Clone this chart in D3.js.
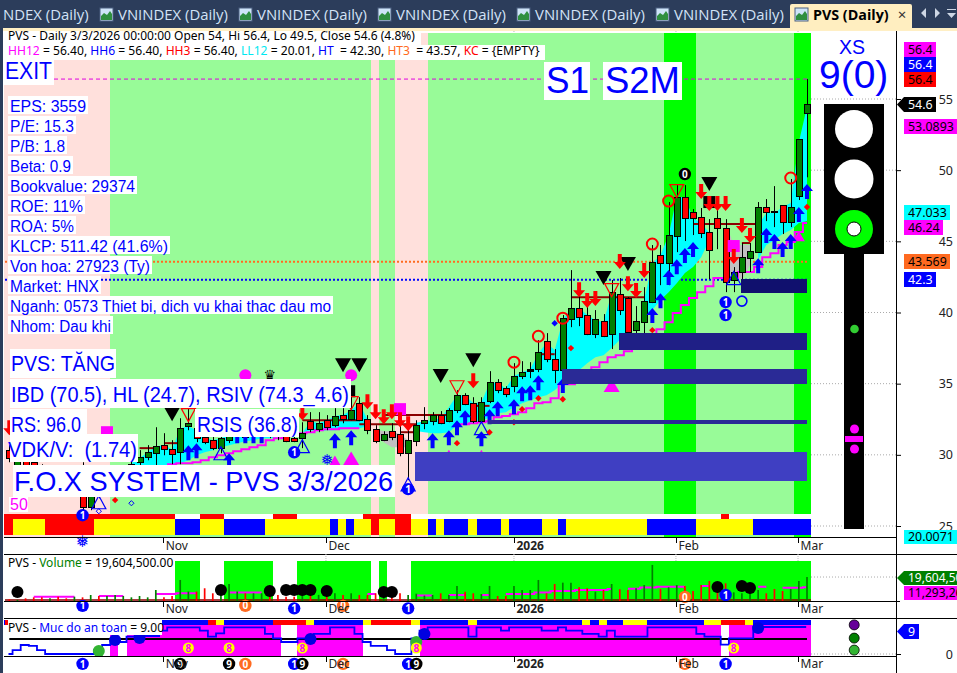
<!DOCTYPE html>
<html><head><meta charset="utf-8">
<script src="https://cdn.jsdelivr.net/npm/d3@7"></script>
<style>html,body{margin:0;padding:0;background:#fff;overflow:hidden}svg{display:block}</style>
</head><body><div id="c"></div>
<script>
// ---- OHLC, bar 0 .. 98 ----
const opens=[30.33,29.20,29.97,29.48,29.06,28.08,28.78,28.36,27.37,29.27,26.32,27.86,27.51,27.86,28.36,28.78,29.48,29.83,30.11,30.68,30.40,30.18,32.01,31.87,31.24,31.03,30.47,31.03,31.31,31.73,31.31,31.66,32.08,31.73,31.31,31.17,31.17,32.36,31.80,32.43,32.08,32.79,32.50,33.63,32.50,31.80,31.03,31.66,31.45,30.11,30.96,32.22,32.36,32.79,32.36,33.14,34.19,33.63,32.36,33.77,35.11,34.68,34.82,35.53,35.88,36.02,37.99,36.72,35.95,39.53,40.31,39.82,38.48,39.39,38.48,41.29,41.01,38.76,39.32,40.73,44.03,43.47,45.37,48.11,47.06,46.70,45.65,46.63,45.93,42.28,42.84,43.82,44.24,47.41,47.13,47.55,46.35,48.18,54.0];
const closes=[29.76,29.76,28.92,28.78,28.36,28.92,27.93,27.51,28.22,26.32,27.51,27.16,28.22,28.57,28.92,29.34,29.83,30.18,30.61,30.40,30.04,31.87,32.22,31.17,30.89,30.47,31.17,31.38,31.73,31.24,31.80,32.08,31.52,31.31,30.96,30.96,31.52,31.80,32.22,31.94,32.72,32.50,33.14,32.43,31.73,30.96,31.45,31.24,30.11,31.03,32.08,32.43,32.79,32.22,33.14,34.19,33.56,32.36,33.70,35.11,34.54,34.26,35.53,35.81,36.02,37.21,36.72,35.95,39.60,40.31,39.67,38.48,39.53,38.34,41.43,40.17,38.62,39.39,40.80,43.54,43.47,45.44,48.11,46.63,46.63,45.58,44.38,45.93,42.14,42.84,43.89,44.31,47.41,47.06,47.06,46.35,47.41,52.12,54.6];
const highs=[30.68,30.18,30.33,29.76,29.34,29.27,29.06,28.64,28.50,29.48,28.22,28.22,28.50,28.92,29.20,29.76,30.33,30.68,31.94,31.52,31.03,32.57,33.28,32.43,31.73,31.31,31.73,31.87,32.29,32.15,32.43,32.72,32.43,32.08,31.87,31.73,32.29,33.00,33.00,32.79,33.28,33.28,34.54,34.05,32.79,32.08,31.66,32.22,32.57,31.94,32.43,33.35,33.00,33.07,33.28,34.54,34.33,34.05,34.05,35.88,35.32,34.82,36.44,36.58,36.51,38.06,38.55,37.43,39.82,42.98,41.43,40.45,40.17,39.89,42.28,42.42,41.08,40.45,41.78,44.74,44.74,47.76,48.95,48.95,47.27,47.34,46.56,47.20,46.56,43.19,44.88,44.88,47.76,47.97,48.88,47.55,49.38,52.12,56.4];
const lows=[29.48,29.06,28.78,28.57,28.08,27.93,27.72,27.37,27.23,26.11,26.11,26.95,27.37,27.65,28.08,28.57,29.27,29.62,29.27,29.97,29.34,29.34,31.73,30.89,30.75,30.33,30.11,30.82,31.17,31.03,31.17,31.31,31.17,31.03,30.89,30.89,30.47,31.59,31.59,31.73,31.94,32.22,32.43,32.36,31.45,30.82,30.96,31.03,29.90,28.22,30.61,31.80,32.08,32.15,32.29,32.93,33.49,32.22,32.22,33.63,34.33,34.05,34.40,35.32,35.39,35.81,36.51,35.04,35.88,38.97,39.04,38.41,38.20,38.27,37.43,39.82,38.34,38.20,38.55,40.66,41.92,41.92,44.24,45.02,45.44,45.23,42.35,44.45,41.43,41.43,42.14,42.84,44.24,46.42,46.00,45.51,46.00,47.90,49.5];
const volumes=[1.4,1.0,2.2,3.0,3.0,2.2,3.5,2.2,3.5,3.0,4.9,4.1,4.1,4.9,4.1,3.0,4.1,3.0,9.0,3.0,4.1,17.2,7.8,7.8,10.4,6.3,7.6,13.9,7.8,6.3,6.3,6.3,4.9,4.9,3.5,3.5,9.0,6.3,5.0,6.3,6.3,4.9,6.3,4.9,4.9,6.3,5.0,6.3,6.3,4.9,6.0,4.4,4.9,6.3,4.9,12.3,7.6,6.3,5.7,12.3,4.1,4.1,12.3,9.0,9.0,17.2,6.3,13.9,15.0,15.0,11.2,10.4,7.6,9.0,13.9,9.6,9.0,10.4,13.1,29.5,9.8,11.2,13.1,12.3,8.2,13.1,16.4,9.0,14.5,7.1,6.3,7.6,9.0,6.3,9.8,8.2,9.8,16.4,19.6045];
const volumeMA=[null,null,null,3.5,3.5,3.5,3.5,3.5,3.5,null,null,4.1,4.1,4.1,4.1,null,null,null,5.7,5.7,5.7,6.3,6.3,6.3,null,null,null,7.0,7.0,7.0,7.0,7.0,null,null,null,null,null,null,null,null,null,null,null,null,5.7,5.7,null,null,null,null,4.4,4.4,4.4,null,4.9,4.9,4.9,null,4.9,4.9,null,5.7,5.7,5.7,5.7,7.0,7.0,8.2,8.2,8.2,9.0,9.0,9.0,9.0,9.8,null,10.1,10.1,11.0,11.0,11.7,11.7,11.7,11.7,null,12.3,12.3,null,null,null,null,null,11.7,11.7,null,10.9,10.9,10.9,11.29];
const safety=[0,1.3,3,2.7,1.3,0,0,0,0,0,0,1.3,3,4.7,4,5.8,6,6,6,7.8,8.9,8.9,8.9,8.9,7.8,5.8,6.9,8.9,8.9,8.9,8.9,8.9,6.7,5.2,4,4,5.2,5.2,6.7,6.7,8.9,8.9,8.9,6.7,4,2.7,2.7,1.3,0,0,5.2,7.8,8.9,8.9,8.9,8.9,8.9,5.8,8.9,8.9,8.9,7.8,8.9,8.9,8.9,8.9,7.8,7.8,8.9,7.8,7.8,6.7,6.7,5.8,7.8,5.8,5.8,5.8,5.8,8.9,8.9,8.9,8.9,8.9,8.9,6.7,5.8,5.8,3.1,5.2,5.2,5.2,9,9,9,9,9,9,9];
const n=null;
const bandUpper=[n,n,n,n,n,n,n,n,n,n,n,n,n,n,n,29.41,29.76,30.18,30.61,30.68,30.40,31.87,32.01,31.73,31.24,31.03,31.17,31.38,31.66,31.66,31.73,31.94,31.80,31.66,31.45,31.38,31.52,32.36,32.22,32.43,32.72,32.79,33.14,33.63,32.50,n,n,n,n,n,32.25,32.36,32.43,32.57,33.35,34.19,34.19,33.63,33.70,35.04,35.04,34.68,35.53,35.81,36.02,37.14,37.85,37.36,39.46,40.31,40.31,39.82,39.46,39.32,41.36,41.22,40.87,n,40.87,43.47,44.03,45.44,48.11,48.11,46.63,46.28,45.58,n,n,n,n,n,46.14,46.99,46.99,47.41,47.69,51.98,54.44];
const bandLower=[n,n,n,n,n,n,n,n,n,n,n,n,n,n,n,29.27,28.92,28.92,28.92,29.06,29.27,29.41,29.62,29.97,30.18,30.33,30.54,30.68,30.82,30.96,31.03,31.17,31.17,31.24,31.31,31.45,31.59,31.73,31.66,31.73,31.73,31.80,31.87,31.87,32.01,n,n,n,n,n,31.68,31.59,31.52,31.52,31.59,32.08,32.22,32.29,32.36,32.64,32.93,33.0,33.35,33.63,33.84,34.05,34.19,34.54,35.04,35.6,35.95,36.44,36.86,37.0,37.50,38.06,38.55,n,39.46,40.17,40.87,41.43,42.06,42.77,43.19,43.89,45.09,n,n,n,n,n,43.70,44.74,45.09,45.51,45.79,46.28,46.42];
const trailStop=[n,n,n,n,n,n,n,n,n,n,n,n,n,n,n,n,n,n,n,29.20,29.34,29.41,29.41,29.48,29.62,29.83,29.97,30.11,30.25,30.40,30.54,30.68,31.03,31.17,31.31,31.38,31.52,31.59,31.73,31.80,31.80,31.87,31.87,31.87,n,n,n,n,n,n,n,n,n,n,n,32.15,32.15,32.22,32.29,32.36,32.64,32.72,32.86,33.0,33.28,33.63,33.70,33.98,34.96,34.96,35.53,35.81,36.16,36.51,36.86,37.0,37.28,37.71,38.06,38.41,38.83,39.32,39.96,40.52,41.01,41.43,41.85,42.42,42.42,42.42,42.84,42.84,43.19,43.89,44.17,44.74,44.95,45.65,46.28];
const greyBars=[45,46,47,48,49,77,88,89,90,91];
const greyUpper=[31.80,31.66,31.66,31.45,31.03,39.67,46.28,44.74,44.74,44.74];
const greyLower=[31.38,30.89,30.54,30.54,30.54,39.11,42.84,42.63,42.28,43.33];

// ---- per-bar colour codes, as run lengths ----
const zoneRuns="P13 G32 P1 G2 P4 G29 B4 G12 B2";
const stateStripRuns="R1 Y4 R6 Y10 B3 Y3 B5 Y8 B1 Y1 B1 Y2 R1 Y2 R2 Y2 B1 Y1 B3 Y1 B3 Y1 B4 Y2 B1 Y10 B6 Y7 B7";
const signalStripRuns="R21 W3 R3 W6 R3 W8 R6 W38 R1 W10";
const volumeBgRuns="W21 L3 W3 L6 W3 L9 W1 L1 W3 L49";
const safetyBgRuns="W13 M1 W1 M19 W2 M8 W7 M37 W1 M10";
const safetyStripRuns="B25 R1 Y1 B6 R4 Y1 B6 Y1 R5 Y1 B6 Y1 B13 Y1 B1 Y1 B2 Y3 B7 Y2 R3 Y1 B7";

// ---- levels and resistance segments ----
const levelHH=56.4, levelHT3=43.569, levelHT=42.3;
const segStart=[16,19,36,43,46,48,57,65,69,84,90];
const segEnd=[18,21,43,50,54,50,59,67,78,92,91];
const segPrice=[30.47,30.82,32.43,32.15,32.79,31.59,33.44,37.07,41.08,46.21,44.88];
const zoneBoxStart=[49.8,58.8,67.9,74.9,89.9];
const zoneBoxEnd=[98,98,98,98,98];
const zoneBoxTop=[30.18,32.43,36.02,38.55,42.35];
const zoneBoxBottom=[28.15,32.15,34.96,37.36,41.36];
const zoneBoxColour=["#3f3fc2","#2a2a96","#2a2a96","#1f1f86","#10106e"];

// ---- signal markers: bar index + price ----
const downBars=[0,36,44,45,46,47,48,49,57,70,71,72,75,76,77,78,85,86,87,88,89,90,91];
const downTips=[31.38,32.43,33.21,32.50,32.15,32.50,31.94,31.66,34.68,41.08,40.31,40.45,43.05,41.50,41.01,42.42,47.97,47.13,47.13,47.13,43.40,45.58,44.88];
const upBars=[22,23,27,28,29,30,31,40,42,52,54,55,56,58,59,60,62,63,64,65,68,79,80,81,82,83,84,92,93,94,95,96,97,98];
const upTips=[30.68,30.82,30.11,31.87,31.87,31.87,31.87,31.52,31.73,31.52,31.73,32.43,33.14,31.66,33.21,33.77,33.91,34.82,34.89,35.6,35.39,40.31,41.36,42.98,43.75,44.53,44.95,43.82,45.93,45.51,44.95,45.51,47.41,49.02];
const blackTriBars=[20,41,43,53,57,73,76,86];
const blackTriPrices=[32.86,36.3,36.3,35.53,36.65,42.42,43.40,49.02];
const redTriBars=[22,42,55,74,82];
const redTriPrices=[32.79,33.63,34.75,41.57,48.53];
const blueTriBars=[11,26,36,49,58,89];
const blueTriPrices=[26.67,30.11,30.61,27.93,31.87,42.42];
const redRingBars=[62,65,68,79,81,96];
const redRingPrices=[36.51,38.33,39.6,44.81,47.83,49.45];
const redDiamondBars=[13,55,59,62,63,65,68,69,79,98];
const redDiamondPrices=[26.82,30.82,31.59,32.29,33.21,33.98,33.91,37.5,38.76,47.41];
const blueDiamondBars=[67];
const blueDiamondPrices=[39.25];
const hollowDiamondBars=[11,15];
const hollowDiamondPrices=[26.04,26.6];
const magentaTriBars=[40,42,54,58,74,97];
const magentaTriPrices=[29.62,29.76,30.18,30.18,34.89,45.37];
const magentaTriSizes=[11,16,6,6,16,12];
const magentaDotBars=[29,42];
const magentaDotPrices=[35.6,35.6];
const magentaSquareBars=[12,48,89];
const magentaSquarePrices=[31.59,33.21,44.67];
const blackBlockBars=[42,86];
const blackBlockPrices=[34.47,47.76];
const priceDiscBars=[9,35,49,83,88,88];
const priceDiscPrices=[25.76,30.18,27.59,49.73,40.73,39.82];
const priceDiscDigits=["1","1","1","0","1","1"];
const priceDiscKinds=["b","b","b","k","b","b"];
const blueRingBars=[90];
const blueRingPrices=[40.80];

// volume pane markers
const volBallBars=[1,26,32,34,35,36,37,39,46,47,87,90,91];
const volBallValues=[7.4,9,8.2,9,9,9,9,8.2,7.4,7.4,11.5,12.3,10.7];
const volDiscBars=[9,29,35,41,49,83,88];
const volDiscValues=[-4,-4,-6,-4,-6,3.3,4.9];
const volDiscDigits=["1","0","1","0","1","0","1"];
const volDiscKinds=["b","o","b","o","b","o","b"];

// safety pane markers
const safeBlueBars=[13,16,37,51,92];
const safeBlueValues=[4.7,5.3,5,6.7,8.7];
const safeGreenBars=[11,50];
const safeGreenValues=[1,4];
const safeEightBars=[22,27,36,50,89];
const safeEightValues=[2,2,2,2,2];
const safeDiscBars=[9,21,27,29,35,36,41,49,50,83,88];
const safeDiscDigits=["1","9","9","0","1","9","0","1","9","0","1"];
const safeDiscKinds=["b","k","k","o","b","k","o","b","k","o","b"];
const safeDiscValue=-3.3;

// ---- text ----
const monthBars=[18.9,38.9,62,81.9,96.9];
const monthLabels=["Nov","Dec","2026","Feb","Mar"];
const priceTicks=[25,30,35,40,45,50,55];
const infoLines=["EPS: 3559","P/E: 15.3","P/B: 1.8","Beta: 0.9","Bookvalue: 29374","ROE: 11%","ROA: 5%","KLCP: 511.42 (41.6%)","Von hoa: 27923 (Ty)","Market: HNX","Nganh: 0573 Thiet bi, dich vu khai thac dau mo","Nhom: Dau khi"];
const tabLabels=["VNINDEX (Daily)","VNINDEX (Daily)","VNINDEX (Daily)","VNINDEX (Daily)","VNINDEX (Daily)"];
const legendParts=[["HH12","#ff00ff"],[" = 56.40, ","#000"],["HH6","#0000ff"],[" = 56.40, ","#000"],["HH3","#ff0000"],[" = 56.40, ","#000"],["LL12","#00e8f0"],[" = 20.01, ","#000"],["HT","#0000ff"],["  = 42.30, ","#000"],["HT3","#ff6a20"],["  = 43.57, ","#000"],["KC","#ff0000"],[" = {EMPTY}","#000"]];

// ---- drawing ----
const W=957,H=673;
const svg=d3.select("#c").append("svg").attr("width",W).attr("height",H).style("font-family","'Noto Sans',sans-serif");
const N=opens.length;
const x=d3.scaleLinear().domain([0,98]).range([9.3,807]);
const y=d3.scaleLinear().domain([25,55]).range([526,99]);
const yV=d3.scaleLinear().domain([0,32.7]).range([601,561]);
const yS=d3.scaleLinear().domain([0,9]).range([654,627]);
const barL=i=>x(i-0.6), barW=()=>x(1)-x(0);
const expand=s=>s.split(" ").flatMap(t=>Array(+t.slice(1)).fill(t[0]));
const paneRight=811;

svg.append("rect").attr("width",W).attr("height",H).attr("fill","#fff");

function strip(runs,colours,top,bottom){
  svg.append("g").selectAll("rect").data(expand(runs)).join("rect")
    .attr("x",(d,i)=>barL(i)).attr("width",barW()+0.4).attr("y",top).attr("height",bottom-top)
    .attr("shape-rendering","crispEdges").attr("fill",d=>colours[d]);
}
strip(zoneRuns,{P:"#ffe0dc",G:"#98fb98",B:"#00ff00"},33,537);
strip(signalStripRuns,{R:"#ff0000",W:"#ffffff"},514,519);
strip(stateStripRuns,{R:"#ff0000",Y:"#ffff00",B:"#0000ff"},519,535);
strip(volumeBgRuns,{W:"#ffffff",L:"#00ff00"},561,601);
strip(safetyBgRuns,{W:"#ffffff",M:"#ff00ff"},625,656);
strip(safetyStripRuns,{R:"#ff0000",Y:"#ffff00",B:"#0000ff"},620,625);

// grids on the right margin
svg.append("g").selectAll("line").data(priceTicks).join("line")
  .attr("x1",paneRight).attr("x2",896).attr("y1",d=>y(d)).attr("y2",d=>y(d))
  .attr("stroke","#aaa").attr("stroke-dasharray","1,2");
svg.append("line").attr("x1",paneRight).attr("x2",896).attr("y1",yV(19.6)).attr("y2",yV(19.6)).attr("stroke","#aaa").attr("stroke-dasharray","1,2");
svg.append("line").attr("x1",paneRight).attr("x2",896).attr("y1",yS(0)).attr("y2",yS(0)).attr("stroke","#aaa").attr("stroke-dasharray","1,2");

// level lines
const hline=(p,c,w,dash)=>svg.append("line").attr("x1",5).attr("x2",paneRight-4).attr("y1",y(p)).attr("y2",y(p)).attr("stroke",c).attr("stroke-width",w).attr("stroke-dasharray",dash);
hline(levelHH,"#e000e0",1,"4,3");
hline(levelHT3,"#ff6a20",2,"2,2");
hline(levelHT,"#0000ff",2,"2,2");

// bands
const bandData=d3.range(N);
const band=d3.area().defined(i=>bandUpper[i]!=null).x(i=>x(i)).y0(i=>y(bandLower[i])).y1(i=>y(bandUpper[i]));
svg.append("path").datum(bandData).attr("d",band).attr("fill","#00ffff");
const greyRuns=[[0,1,2,3,4],[5],[6,7,8,9]];
greyRuns.forEach(r=>{
  const a=d3.area().x(k=>x(greyBars[k])).y0(k=>y(greyLower[k])).y1(k=>y(greyUpper[k]));
  if(r.length>1) svg.append("path").datum(r).attr("d",a).attr("fill","#c0c0c0");
});
// trailing stop
svg.append("path").datum(bandData).attr("fill","none").attr("stroke","#ff00ff").attr("stroke-width",2)
  .attr("d",d3.line().defined(i=>trailStop[i]!=null).curve(d3.curveStep).x(i=>x(i)).y(i=>y(trailStop[i])));
// resistance segments
svg.append("g").selectAll("line").data(segPrice).join("line")
  .attr("x1",(d,i)=>x(segStart[i])).attr("x2",(d,i)=>x(segEnd[i])).attr("y1",d=>y(d)).attr("y2",d=>y(d))
  .attr("stroke","#8b0000").attr("stroke-width",2);

// candles
const cg=svg.append("g");
d3.range(N).forEach(i=>{
  const o=opens[i],c=closes[i],up=c>=o,doji=Math.abs(c-o)<0.16;
  cg.append("line").attr("x1",Math.round(x(i))+.5).attr("x2",Math.round(x(i))+.5).attr("y1",y(highs[i])).attr("y2",y(lows[i])).attr("stroke","#000");
  const top=y(Math.max(o,c)),bot=y(Math.min(o,c));
  cg.append("rect").attr("x",Math.round(x(i))-2.5).attr("width",6).attr("y",top).attr("height",Math.max(bot-top,1))
    .attr("fill",doji?"#000":(up?"#008000":"#ff0000")).attr("stroke","#000").attr("stroke-width",1).attr("shape-rendering","crispEdges");
});

// shapes
const tri=(cx,cy,w,h,up)=>up?`M${cx-w/2},${cy+h/2}L${cx},${cy-h/2}L${cx+w/2},${cy+h/2}Z`:`M${cx-w/2},${cy-h/2}L${cx},${cy+h/2}L${cx+w/2},${cy-h/2}Z`;
const diamond=(cx,cy,r)=>`M${cx-r},${cy}L${cx},${cy-r}L${cx+r},${cy}L${cx},${cy+r}Z`;
const arrow=(cx,tip,dir)=>`M${cx},${tip}L${cx-6},${tip-dir*7}L${cx-2},${tip-dir*7}L${cx-2},${tip-dir*15}L${cx+2},${tip-dir*15}L${cx+2},${tip-dir*7}L${cx+6},${tip-dir*7}Z`;
const mk=svg.append("g");
const paths=(bars,vals,f,attrs)=>bars.forEach((b,k)=>{const p=mk.append("path").attr("d",f(x(b),y(vals[k]),k));Object.entries(attrs).forEach(([a,v])=>p.attr(a,v));});

magentaTriBars.forEach((b,k)=>{const s=magentaTriSizes[k];mk.append("path").attr("d",tri(x(b),y(magentaTriPrices[k]),s,s*.85,true)).attr("fill","#ff00ff");});
magentaSquareBars.forEach((b,k)=>mk.append("rect").attr("x",x(b)-6).attr("y",y(magentaSquarePrices[k])-6).attr("width",12).attr("height",12).attr("fill","#ff00ff"));
magentaDotBars.forEach((b,k)=>mk.append("circle").attr("cx",x(b)).attr("cy",y(magentaDotPrices[k])).attr("r",6).attr("fill","#ff00ff"));
blackBlockBars.forEach((b,k)=>mk.append("rect").attr("x",x(b)-(k?6:3)).attr("y",y(blackBlockPrices[k])-6).attr("width",k?12:7).attr("height",12).attr("fill","#000"));
paths(blackTriBars,blackTriPrices,(a,b)=>tri(a,b,16,14,false),{fill:"#000"});
mk.append("text").attr("x",x(32)).attr("y",380).attr("text-anchor","middle").attr("font-size",14).attr("font-family","DejaVu Sans").attr("fill","#000").text("♛");
paths(redTriBars,redTriPrices,(a,b)=>tri(a,b,14,13,false),{fill:"none",stroke:"#ff0000","stroke-width":1.2});
paths(blueTriBars,blueTriPrices,(a,b)=>tri(a,b,14,13,true),{fill:"none",stroke:"#0000ff","stroke-width":1.2});
paths(downBars,downTips,(a,b)=>arrow(a,b,1),{fill:"#ff0000"});
paths(upBars,upTips,(a,b)=>arrow(a,b,-1),{fill:"#0000ff"});
paths(redDiamondBars,redDiamondPrices,(a,b)=>diamond(a,b,3.2),{fill:"#ff0000"});
paths(blueDiamondBars,blueDiamondPrices,(a,b)=>diamond(a,b,3.2),{fill:"#0000ff"});
paths(hollowDiamondBars,hollowDiamondPrices,(a,b)=>diamond(a,b,2.6),{fill:"none",stroke:"#0000ff"});
redRingBars.forEach((b,k)=>mk.append("circle").attr("cx",x(b)).attr("cy",y(redRingPrices[k])).attr("r",5.5).attr("fill","none").attr("stroke","#ff0000").attr("stroke-width",2));
blueRingBars.forEach((b,k)=>mk.append("circle").attr("cx",x(b)).attr("cy",y(blueRingPrices[k])).attr("r",5).attr("fill","none").attr("stroke","#0000ff").attr("stroke-width",1.6));

// zone boxes cover candles
svg.append("g").selectAll("rect").data(zoneBoxTop).join("rect")
  .attr("x",(d,i)=>x(zoneBoxStart[i])).attr("width",(d,i)=>x(zoneBoxEnd[i])-x(zoneBoxStart[i]))
  .attr("y",d=>y(d)).attr("height",(d,i)=>y(zoneBoxBottom[i])-y(d)).attr("fill",(d,i)=>zoneBoxColour[i]).attr("shape-rendering","crispEdges");

const discCol={b:"#0000ff",o:"#ff6a20",k:"#000000"};
function disc(g,cx,cy,digit,kind){
  g.append("circle").attr("cx",cx).attr("cy",cy).attr("r",6.2).attr("fill",discCol[kind]);
  g.append("text").attr("x",cx).attr("y",cy+3.6).attr("text-anchor","middle").attr("font-size",10).attr("font-weight",700).attr("fill","#fff").text(digit);
}
const dg=svg.append("g");
priceDiscBars.forEach((b,k)=>disc(dg,x(b),y(priceDiscPrices[k]),priceDiscDigits[k],priceDiscKinds[k]));
dg.append("text").attr("x",x(9)).attr("y",547).attr("text-anchor","middle").attr("font-size",16).attr("font-family","DejaVu Sans").attr("fill","#0000ff").text("❅");
dg.append("text").attr("x",x(39)).attr("y",465).attr("text-anchor","middle").attr("font-size",15).attr("font-family","DejaVu Sans").attr("fill","#0000ff").text("❅");

// volume pane
svg.append("line").attr("x1",5).attr("x2",paneRight).attr("y1",600).attr("y2",600).attr("stroke","#8b0000").attr("stroke-width",1.5);
svg.append("path").datum(d3.range(N)).attr("fill","none").attr("stroke","#ff00ff").attr("stroke-width",2)
  .attr("d",d3.line().defined(i=>volumeMA[i]!=null).curve(d3.curveStep).x(i=>x(i)).y(i=>yV(volumeMA[i])));
svg.append("g").selectAll("line").data(volumes).join("line")
  .attr("x1",(d,i)=>x(i)).attr("x2",(d,i)=>x(i)).attr("y1",601).attr("y2",d=>yV(d))
  .attr("stroke",(d,i)=>closes[i]>=opens[i]?"#008000":"#ff0000").attr("stroke-width",1.7);
svg.append("g").selectAll("circle").data(volBallValues).join("circle")
  .attr("cx",(d,i)=>x(volBallBars[i])).attr("cy",d=>yV(d)).attr("r",6).attr("fill","#000");
volDiscBars.forEach((b,k)=>disc(svg,x(b),yV(volDiscValues[k]),volDiscDigits[k],volDiscKinds[k]));

// safety pane
svg.append("line").attr("x1",x(0)).attr("x2",x(98)).attr("y1",yS(5)).attr("y2",yS(5)).attr("stroke","#000").attr("stroke-width",2);
svg.append("path").datum(d3.range(N)).attr("fill","none").attr("stroke","#0000ff").attr("stroke-width",1.8)
  .attr("d",d3.line().curve(d3.curveStep).x(i=>x(i-0.1)).y(i=>yS(safety[i])));
safeGreenBars.forEach((b,k)=>svg.append("circle").attr("cx",x(b)).attr("cy",yS(safeGreenValues[k])).attr("r",6).attr("fill","#32b432"));
safeBlueBars.forEach((b,k)=>svg.append("circle").attr("cx",x(b)).attr("cy",yS(safeBlueValues[k])).attr("r",6).attr("fill","#0000e0"));
safeEightBars.forEach((b,k)=>{
  const cx=x(b),cy=yS(safeEightValues[k]);
  svg.append("circle").attr("cx",cx).attr("cy",cy).attr("r",5.5).attr("fill","#ffff00");
  svg.append("text").attr("x",cx).attr("y",cy+3.6).attr("text-anchor","middle").attr("font-size",10).attr("font-weight",700).attr("fill","#ff00ff").text("8");
});
safeDiscBars.forEach((b,k)=>disc(svg,x(b),yS(safeDiscValue),safeDiscDigits[k],safeDiscKinds[k]));
[[103.8,9.7,"#660099"],[103.8,5.3,"#008000"],[103.8,1.3,"#32b432"]].forEach(d=>svg.append("circle").attr("cx",x(d[0])).attr("cy",yS(d[1])).attr("r",5).attr("fill",d[2]).attr("stroke","#000").attr("stroke-width",.8));

// labels over the panes
function boxed(text,px,base,size,fill,bx0,by0,bx1,by1,len){
  if(bx1>bx0) svg.append("rect").attr("x",bx0).attr("y",by0).attr("width",bx1-bx0).attr("height",by1-by0).attr("fill","#fff");
  const t=svg.append("text").attr("x",px).attr("y",base).attr("font-family","'Liberation Sans',Arial").attr("font-size",size).attr("fill",fill).style("white-space","pre").text(text);
  if(len) t.attr("textLength",len).attr("lengthAdjust","spacingAndGlyphs");
}
const BL="#0000ff";
boxed("EXIT",5,79,24,BL,4,60,54,85,47);
boxed("S1",546,93,36,BL,544,62,590,100,43);
boxed("S2M",605,93,36,BL,603,62,682,100,75);
const infoRight=[88,76,67,73,137,85,76,170,152,101,333,113];
infoLines.forEach((t,i)=>boxed(t,10,111.5+i*20,16,BL,8,96+i*20,infoRight[i],114+i*20,infoRight[i]-12));
boxed("PVS: TĂNG",11,371,21.5,BL,10,349,116,378,104);
boxed("IBD (70.5), HL (24.7), RSIV (74.3_4.6)",11,402,21.5,BL,10,379,351,408,338);
boxed("RS: 96.0_",11,432,21.5,BL,10,409,87,437,80);
boxed("RSIS (36.8)",197,432,21.5,BL,195,409,299,437,101);
boxed("VDK/V:  (1.74)",8,457,21.5,BL,10,434,138,462,129);
boxed("F.O.X SYSTEM - PVS 3/3/2026",14,491,27.5,BL,13,465,395,497,379);
boxed("50",10,510,16,"#ff00ff",9,497,28,512);
boxed("XS",839,54,19.5,BL,0,0,0,0);
boxed("9(0)",819,88,39,BL,0,0,0,0);

// traffic light (decoration, margin)
const tl=svg.append("g");
tl.append("rect").attr("x",844).attr("y",254).attr("width",20).attr("height",275).attr("fill","#000");
tl.append("rect").attr("x",824).attr("y",104).attr("width",60).attr("height",150).attr("fill","#000");
tl.append("circle").attr("cx",854).attr("cy",129).attr("r",19).attr("fill","#fff");
tl.append("circle").attr("cx",854).attr("cy",179).attr("r",19.5).attr("fill","#fff");
tl.append("circle").attr("cx",854).attr("cy",229).attr("r",19).attr("fill","#00ff00");
tl.append("circle").attr("cx",854).attr("cy",229).attr("r",7).attr("fill","#fff").attr("stroke","#000");
tl.append("circle").attr("cx",854.5).attr("cy",329).attr("r",4.3).attr("fill","#32cd32");
tl.append("circle").attr("cx",854.5).attr("cy",429).attr("r",4.5).attr("fill","#ff00ff");
tl.append("rect").attr("x",845).attr("y",436).attr("width",18).attr("height",6).attr("fill","#ff00ff");
tl.append("circle").attr("cx",854.5).attr("cy",449).attr("r",4.5).attr("fill","#ff00ff");

// pane text
function parts(px,base,list,size,box){
  svg.append("rect").attr("x",box[0]).attr("y",box[1]).attr("width",box[2]-box[0]).attr("height",box[3]-box[1]).attr("fill","#fff");
  const t=svg.append("text").attr("x",px).attr("y",base).attr("font-size",size).style("white-space","pre");
  list.forEach(p=>t.append("tspan").attr("fill",p[1]).text(p[0]));
}
parts(8,40,[["PVS - Daily 3/3/2026 00:00:00 Open 54, Hi 56.4, Lo 49.5, Close 54.6 (4.8%)","#000"]],12,[4,31,421,45]);
parts(8,55,legendParts,12.1,[4,45,545,60]);
parts(8,567,[["PVS - ","#000"],["Volume","#008000"],[" = 19,604,500.00","#000"]],12,[8,556,175,571]);
svg.append("rect").attr("x",5).attr("y",620).attr("width",3).attr("height",5).attr("fill","#ff0000");
parts(8,632,[["PVS - ","#000"],["Muc do an toan","#0000ff"],[" = 9.00","#000"]],12,[8,620,162,635]);

// axis frame
const rule=(x1,x2,yy,c="#000",w=1)=>svg.append("line").attr("x1",x1).attr("x2",x2).attr("y1",yy+.5).attr("y2",yy+.5).attr("stroke",c).attr("stroke-width",w);
rule(4,896,537);rule(4,W,554);rule(4,900,601);rule(4,W,618);rule(4,896,656);
svg.append("line").attr("x1",896.5).attr("x2",896.5).attr("y1",31).attr("y2",H).attr("stroke","#000");

// month axes
[[537,545],[601,608],[656,663]].forEach(([top,mid])=>{
  monthBars.forEach((b,k)=>{
    svg.append("line").attr("x1",Math.round(x(b))+.5).attr("x2",Math.round(x(b))+.5).attr("y1",top).attr("y2",top+6).attr("stroke","#000");
    svg.append("text").attr("x",x(b)+2.5).attr("y",mid+5).attr("font-size",12).attr("font-weight",monthLabels[k]==="2026"?700:400).attr("fill","#222").text(monthLabels[k]);
  });
});
monthBars.slice(1,5).forEach(b=>{
  [[31,33],[554,561]].forEach(([a,c])=>svg.append("line").attr("x1",x(b)).attr("x2",x(b)).attr("y1",a).attr("y2",c).attr("stroke","#bbb").attr("stroke-dasharray","1,1"));
});
// price axis
const axisG=svg.append("g").attr("transform","translate(896,0)").call(d3.axisRight(y).tickValues(priceTicks).tickSize(5).tickPadding(40).tickFormat(d3.format("d")));
axisG.select(".domain").remove();
axisG.selectAll("text").attr("font-size",12.5).attr("font-family","'Noto Sans'").attr("fill","#222").attr("x",57).attr("text-anchor","end");
const s0=svg.append("g").attr("transform","translate(896,0)").call(d3.axisRight(yS).tickValues([0]).tickSize(5).tickFormat(d3.format("d")));
s0.select(".domain").remove();
s0.selectAll("text").attr("font-size",12.5).attr("font-family","'Noto Sans'").attr("fill","#222").attr("x",57).attr("text-anchor","end");

// value tags
function tag(text,x0,x1,yTop,h,bg,fg,pointer,size){
  const g=svg.append("g");
  if(pointer) g.append("path").attr("d",`M${x0-7},${yTop+h/2}L${x0},${yTop}L${x1},${yTop}L${x1},${yTop+h}L${x0},${yTop+h}Z`).attr("fill",bg);
  else g.append("rect").attr("x",x0).attr("y",yTop).attr("width",x1-x0).attr("height",h).attr("fill",bg);
  g.append("text").attr("x",x0+4).attr("y",yTop+h-3.5).attr("font-size",size||12.4).attr("fill",fg).text(text);
}
tag("56.4",904,936,42,15,"#ff00ff","#000");
tag("56.4",904,936,57,15,"#0000ff","#fff");
tag("56.4",904,936,72,15,"#ff0000","#000");
tag("54.6",904,936,97,15,"#000","#fff",true);
tag("53.0893",904,957,119,15,"#ff00ff","#000");
tag("47.033",904,950,205,15,"#00ffff","#000");
tag("46.24",904,943,220,15,"#ff00ff","#000");
tag("43.569",904,950,254,15,"#ff6a20","#000");
tag("42.3",904,936,272,15,"#0000ff","#fff");
tag("20.0071",904,957,530,14,"#00ffff","#000");
tag("19,604,50",904,957,571,14,"#008000","#fff",true,12);
tag("11,293,26",904,957,586,14,"#ff00ff","#000",false,12);
tag("9",904,919,624,15,"#0000ff","#fff",true);

// title bar and tabs
svg.append("rect").attr("width",W).attr("height",28).attr("fill","#2c3d5b");
svg.append("rect").attr("y",28).attr("width",W).attr("height",3).attr("fill","#ffefc4");
svg.append("rect").attr("width",3).attr("height",H).attr("fill","#2c3d5b");
svg.append("rect").attr("x",790).attr("y",4).attr("width",122).attr("height",26).attr("rx",2).attr("fill","#ffeec0");
const tabText=(t,px,c,w,s)=>svg.append("text").attr("x",px).attr("y",20).attr("font-family","'Open Sans'").attr("font-size",s||14.9).attr("font-weight",w||400).attr("fill",c).text(t);
tabText("NDEX (Daily)",3,"#d3e3f7");
const icon=px=>{
  svg.append("rect").attr("x",px).attr("y",8).attr("width",13).attr("height",13).attr("fill","#cfe4f8").attr("stroke","#4a5f80");
  svg.append("path").attr("d",`M${px+1},20L${px+1},16L${px+4},13L${px+7},15L${px+10},11L${px+12},14L${px+12},20Z`).attr("fill","#2f8f3f");
};
[100,239,378,517,656].forEach((px,k)=>{icon(px);tabText(tabLabels[k],px+18,"#d3e3f7");});
icon(795);
tabText("PVS (Daily)",813,"#000",700,14.3);
svg.append("text").attr("x",902).attr("y",20).attr("text-anchor","middle").attr("font-size",15).attr("fill","#333").text("×");
svg.append("path").attr("d","M921,13L926,8L926,18Z M935,8L940,13L935,18Z M947,9L956,9L956,10L947,10Z M947,13L956,13L951.5,18Z").attr("fill","#cdd6e4");
</script></body></html>
